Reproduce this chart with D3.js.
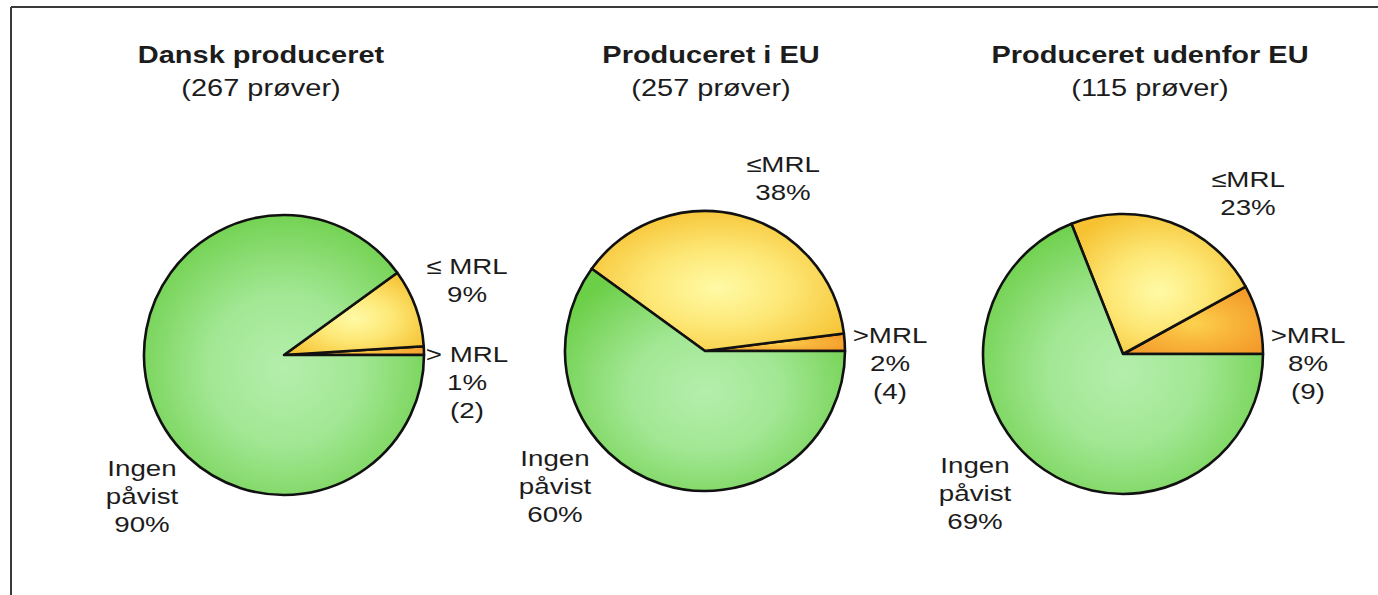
<!DOCTYPE html>
<html>
<head>
<meta charset="utf-8">
<script src="https://cdn.jsdelivr.net/npm/d3@7"></script>
<style>
	body { margin: 0; background: #fff; }
	svg { display: block; font-family: "Liberation Sans", Arial, sans-serif; }
</style>
</head>
<body>
<svg id="chart"></svg>
<script>
// data
const groups = ['Dansk produceret', 'Produceret i EU', 'Produceret udenfor EU'];
const sampleCounts = [267, 257, 115];
const categories = ['over', 'under', 'none'];
const overMRL = [1, 2, 8];
const underMRL = [9, 38, 23];
const notFound = [90, 60, 69];
const overMRLCounts = [2, 4, 9];
const underLabels = ['\u2264 MRL', '\u2264MRL', '\u2264MRL'];
const overLabels = ['> MRL', '>MRL', '>MRL'];

// layout
const fullWidth = 1378;
const fullHeight = 595;
const radius = 140;
const centers = [[284, 355], [705, 351], [1123, 354]];
const titleX = [261, 711, 1150];
const stretch = 1.26;
const lineH = 28;
// label anchors relative to each pie centre (first baseline)
const labelPos = [
	{ under: [183, -81], over: [183, 7], none: [-142, 121] },
	{ under: [78, -179], over: [185, -8], none: [-150, 115] },
	{ under: [125, -167], over: [185, -11], none: [-148, 119] }
];

const svg = d3.select('#chart').attr('width', fullWidth).attr('height', fullHeight);

// frame lines
svg.append('line').attr('x1', 11).attr('x2', fullWidth).attr('y1', 7).attr('y2', 7)
	.attr('stroke', '#3a3a3a').attr('stroke-width', 2);
svg.append('line').attr('x1', 11).attr('x2', 11).attr('y1', 7).attr('y2', fullHeight)
	.attr('stroke', '#3a3a3a').attr('stroke-width', 2);

// one shaded fill per category, light in the middle of each slice
const defs = svg.append('defs');
const gradColors = {
	none: ['#b4efac', '#a2e794', '#6ccf48'],
	under: ['#fffaa6', '#fde877', '#f6c232'],
	over: ['#fcd24e', '#f9b73c', '#f39a2a']
};
categories.forEach(c => {
	const grad = defs.append('radialGradient')
		.attr('id', `grad-${c}`)
		.attr('cx', 0.5).attr('cy', 0.55).attr('r', 0.6);
	gradColors[c].forEach((col, k) => {
		grad.append('stop').attr('offset', [0, 0.45, 1][k]).attr('stop-color', col);
	});
});

const pie = d3.pie()
	.sort(null)
	.value(d => d.value)
	.startAngle(Math.PI / 2)
	.endAngle(Math.PI / 2 - 2 * Math.PI);

const arc = d3.arc().innerRadius(0).outerRadius(radius);

function addText(g, x, y, lines, opts) {
	const t = g.append('text')
		.attr('transform', `translate(${x},${y}) scale(${stretch},1)`)
		.attr('text-anchor', 'middle')
		.attr('fill', '#1c1c1c')
		.style('font-size', (opts.size || 22) + 'px')
		.style('font-weight', opts.bold ? 'bold' : 'normal');
	t.selectAll('tspan')
		.data(lines)
		.join('tspan')
		.attr('x', 0)
		.attr('dy', (d, i) => i === 0 ? 0 : lineH)
		.text(d => d);
	return t;
}

groups.forEach((name, i) => {
	const [cx, cy] = centers[i];
	const g = svg.append('g').attr('transform', `translate(${cx},${cy})`);

	const slices = [
		{ key: 'over', value: overMRL[i] },
		{ key: 'under', value: underMRL[i] },
		{ key: 'none', value: notFound[i] }
	];

	g.selectAll('path.slice')
		.data(pie(slices))
		.join('path')
		.attr('class', 'slice')
		.attr('d', arc)
		.attr('fill', d => `url(#grad-${d.data.key})`)
		.attr('stroke', '#111')
		.attr('stroke-width', 2.6)
		.attr('stroke-linejoin', 'round');

	// titles
	addText(svg, titleX[i], 63, [name], { size: 23, bold: true });
	addText(svg, titleX[i], 96, [`(${sampleCounts[i]} prøver)`], { size: 23 });

	// slice labels
	const lp = labelPos[i];
	addText(svg, cx + lp.under[0], cy + lp.under[1], [underLabels[i], `${underMRL[i]}%`], {});
	addText(svg, cx + lp.over[0], cy + lp.over[1], [overLabels[i], `${overMRL[i]}%`, `(${overMRLCounts[i]})`], {});
	addText(svg, cx + lp.none[0], cy + lp.none[1], ['Ingen', 'påvist', `${notFound[i]}%`], {});
});
</script>
</body>
</html>
